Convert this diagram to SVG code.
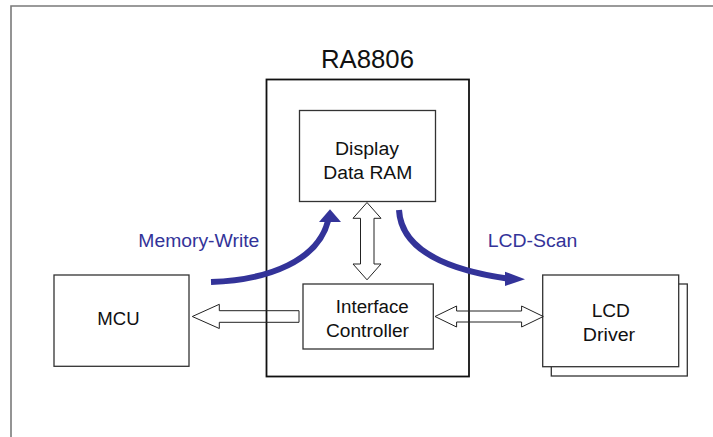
<svg xmlns="http://www.w3.org/2000/svg" width="713" height="437" viewBox="0 0 713 437">
<style>
text{font-family:"Liberation Sans",Arial,sans-serif;fill:#111;text-anchor:middle}
.lbl{font-size:18px}
.blue{fill:#333399;font-size:18px}
.box{fill:#fff;stroke:#333;stroke-width:1.3}
.hollow{fill:none;stroke:#222;stroke-width:1}
.flow{fill:none;stroke:#333399;stroke-width:6}
.head{fill:#333399}
</style>
<rect width="713" height="437" fill="#fff"/>
<path d="M11,437 V6 H713" fill="none" stroke="#7a7a7a" stroke-width="1.6"/>
<g id="ra8806">
<rect x="266.5" y="79.5" width="202.5" height="297" fill="#fff" stroke="#111" stroke-width="1.8"/>
<text x="367.5" y="68.3" font-size="25" textLength="93" lengthAdjust="spacingAndGlyphs">RA8806</text>
</g>
<g id="ram">
<rect class="box" x="299.5" y="110.5" width="136" height="91"/>
<text class="lbl" x="367" y="155.3" textLength="64" lengthAdjust="spacingAndGlyphs">Display</text>
<text class="lbl" x="367.8" y="178.7" textLength="89" lengthAdjust="spacingAndGlyphs">Data RAM</text>
</g>
<g id="ifc">
<rect class="box" x="303" y="284" width="130.3" height="65"/>
<text class="lbl" x="372.3" y="312.7" textLength="73" lengthAdjust="spacingAndGlyphs">Interface</text>
<text class="lbl" x="367.5" y="336.7" textLength="83" lengthAdjust="spacingAndGlyphs">Controller</text>
</g>
<g id="mcu">
<rect class="box" x="54" y="275" width="135" height="91.3"/>
<text class="lbl" x="118.5" y="325.3" textLength="42.3" lengthAdjust="spacingAndGlyphs">MCU</text>
</g>
<g id="lcd">
<rect class="box" x="551.3" y="284" width="136" height="92"/>
<rect class="box" x="542.7" y="275" width="136" height="91.7"/>
<text class="lbl" x="610.8" y="316.7" textLength="38.3" lengthAdjust="spacingAndGlyphs">LCD</text>
<text class="lbl" x="609" y="341" textLength="52.3" lengthAdjust="spacingAndGlyphs">Driver</text>
</g>
<g id="connectors">
<polygon class="hollow" points="192.3,316.5 219.3,304.3 219.3,310.7 299,310.7 299,322.3 219.3,322.3 219.3,328.5"/>
<polygon class="hollow" points="435,316.5 456.6,306 456.6,311 521.6,311 521.6,306 543.3,316.5 521.6,327 521.6,322 456.6,322 456.6,327"/>
<polygon class="hollow" points="367,202.5 381,218.3 374,218.3 374,264 381,264 367,279.8 353,264 360.5,264 360.5,218.3 353,218.3"/>
<path class="flow" d="M211,282 C270,280 318,260 328,221"/>
<polygon class="head" points="330,209.3 341,222 319,222"/>
<path class="flow" d="M399,210 C401,245 435,268 507,278.5"/>
<polygon class="head" points="525,279.3 505,271.7 505,286"/>
<text class="blue" x="198.8" y="247.3" textLength="121" lengthAdjust="spacingAndGlyphs">Memory-Write</text>
<text class="blue" x="532.5" y="247.3" textLength="89.6" lengthAdjust="spacingAndGlyphs">LCD-Scan</text>
</g>
</svg>
